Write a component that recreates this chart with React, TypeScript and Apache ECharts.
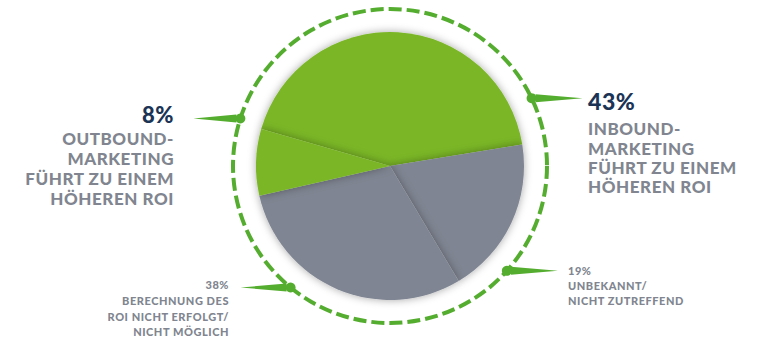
import React, { useEffect, useRef } from "react";
import * as echarts from "echarts";

// Slice values as drawn (angles)
const sliceNames = ["Inbound", "Unbekannt", "Berechnung", "Outbound"];
const sliceValues = [43, 19, 30, 8];
const sliceColors = ["#7ab626", "#7f8592", "#7f8592", "#7ab626"];

// Label texts
const percentLabels = ["43%", "19%", "38%", "8%"];
const bodyLabels = [
  ["INBOUND-", "MARKETING", "FÜHRT ZU EINEM", "HÖHEREN ROI"],
  ["UNBEKANNT/", "NICHT ZUTREFFEND"],
  ["BERECHNUNG DES", "ROI NICHT ERFOLGT/", "NICHT MÖGLICH"],
  ["OUTBOUND-", "MARKETING", "FÜHRT ZU EINEM", "HÖHEREN ROI"],
];
// angle (deg, ccw from east) of each pointer dot on the dashed ring
const pointerAngles = [25.6, -41.9, -129.3, 162.4];

const CX = 390;
const CY = 166;
const PIE_R = 134;
const RING_R = 157;
const GREEN = "#55ad2f";
const NAVY = "#1b3456";
const GRAY = "#80858f";
const FONT = "Lato, 'Open Sans', sans-serif";

export default function App() {
  const ref = useRef<HTMLDivElement>(null);
  useEffect(() => {
    if (!ref.current) return;
    const chart = echarts.init(ref.current, undefined, { renderer: "svg" });
    const graphics: any[] = [];

    graphics.push({
      type: "circle",
      shape: { cx: CX, cy: CY, r: RING_R },
      style: { fill: "none", stroke: GREEN, lineWidth: 4, lineDash: [13, 5] },
      z: 1,
    });

    // pointers
    const pointerLen = [51, 51, 50, 47];
    pointerAngles.forEach((a, i) => {
      const rad = (a * Math.PI) / 180;
      const dx = CX + RING_R * Math.cos(rad);
      const dy = CY - RING_R * Math.sin(rad);
      const dir = Math.cos(rad) >= 0 ? 1 : -1;
      const tip = dx + dir * pointerLen[i];
      graphics.push({
        type: "polygon",
        shape: {
          points: [
            [dx + dir * 4, dy - 4],
            [dx + dir * 4, dy + 4],
            [tip, dy],
          ],
        },
        style: { fill: GREEN },
        z: 2,
      });
      graphics.push({
        type: "circle",
        shape: { cx: dx, cy: dy, r: 5 },
        style: { fill: GREEN },
        z: 3,
      });
    });

    // text blocks
    type Block = {
      x: number;
      align: "left" | "right";
      pctBase: number;
      pctSize: number;
      pctColor: string;
      lineBase: number;
      lineStep: number;
      size: number;
    };
    const blocks: Block[] = [
      { x: 588, align: "left", pctBase: 110, pctSize: 23, pctColor: NAVY, lineBase: 135, lineStep: 19.4, size: 17 },
      { x: 568, align: "left", pctBase: 275, pctSize: 11, pctColor: GRAY, lineBase: 290, lineStep: 15, size: 11 },
      { x: 229, align: "right", pctBase: 289, pctSize: 11, pctColor: GRAY, lineBase: 305, lineStep: 15.4, size: 11 },
      { x: 174, align: "right", pctBase: 123, pctSize: 22, pctColor: NAVY, lineBase: 145, lineStep: 20, size: 17 },
    ];
    blocks.forEach((b, i) => {
      graphics.push({
        type: "text",
        x: b.x,
        y: b.pctBase - b.pctSize * 0.37,
        style: {
          text: percentLabels[i],
          fill: b.pctColor,
          font: `900 ${b.pctSize}px ${FONT}`,
          textAlign: b.align,
          textVerticalAlign: "middle",
        },
        z: 5,
      });
      bodyLabels[i].forEach((line, j) => {
        const base = b.lineBase + j * b.lineStep;
        graphics.push({
          type: "text",
          x: b.x,
          y: base - b.size * 0.37,
          style: {
            text: line,
            fill: GRAY,
            font: `900 ${b.size}px ${FONT}`,
            textAlign: b.align,
            textVerticalAlign: "middle",
          },
          z: 5,
        });
      });
    });

    chart.setOption({
      animation: false,
      graphic: graphics,
      series: [
        {
          type: "pie",
          center: [CX, CY],
          radius: [0, PIE_R],
          startAngle: 164,
          clockwise: true,
          silent: true,
          label: { show: false },
          labelLine: { show: false },
          itemStyle: {
            shadowBlur: 8,
            shadowColor: "rgba(0,0,0,0.35)",
          },
          emphasis: { disabled: true },
          data: sliceValues.map((v, i) => ({
            name: sliceNames[i],
            value: v,
            itemStyle: { color: sliceColors[i] },
          })),
        },
      ],
    });
    return () => chart.dispose();
  }, []);
  return (
    <>
      <style>{"#chart svg text { letter-spacing: 0.55px; }"}</style>
      <div
        id="chart"
        ref={ref}
        style={{ position: "fixed", left: 0, top: 0, width: 760, height: 344, background: "#fff" }}
      />
    </>
  );
}
